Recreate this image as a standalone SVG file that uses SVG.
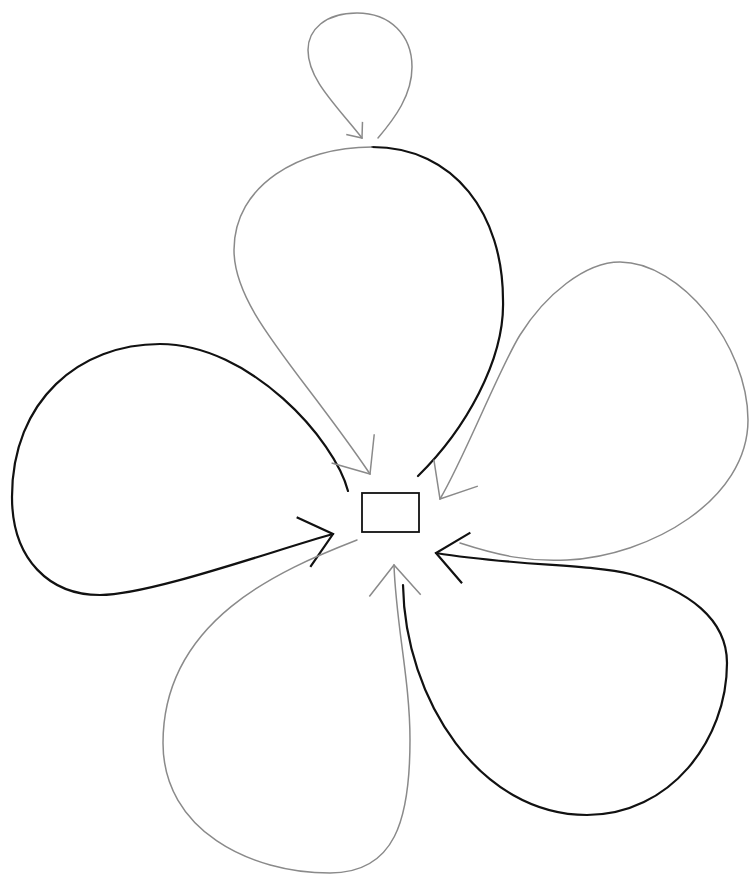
<svg xmlns="http://www.w3.org/2000/svg" width="750" height="875" viewBox="0 0 750 875">
  <style>
    .dark { fill: none; stroke: #111; stroke-width: 2.2; stroke-linecap: round; }
    .grey { fill: none; stroke: #8a8a8a; stroke-width: 1.5; stroke-linecap: round; }
    .node { fill: #fff; stroke: #111; stroke-width: 1.8; }
  </style>
  <defs>
    <marker id="arrDark" orient="auto" markerUnits="userSpaceOnUse" viewBox="-36 -30 40 60" markerWidth="40" markerHeight="60" refX="0" refY="0" overflow="visible">
      <path d="M-30.6,-25.7 L0,0 L-30.6,25.7" fill="none" stroke="#111" stroke-width="2.2"/>
    </marker>
    <marker id="arrGrey" orient="auto" markerUnits="userSpaceOnUse" viewBox="-36 -30 40 60" markerWidth="40" markerHeight="60" refX="0" refY="0" overflow="visible">
      <path d="M-30.6,-25.7 L0,0 L-30.6,25.7" fill="none" stroke="#8a8a8a" stroke-width="1.5"/>
    </marker>
    <marker id="arrGreySmall" orient="auto" markerUnits="userSpaceOnUse" viewBox="-16 -12 20 24" markerWidth="20" markerHeight="24" refX="0" refY="0" overflow="visible">
      <path d="M-12.4,-10.3 L0,0 L-12.4,10.3" fill="none" stroke="#8a8a8a" stroke-width="1.5"/>
    </marker>
  </defs>
  <rect width="750" height="875" fill="#fff"/>
  <g id="connectors">
    <path id="loop-left" class="dark" marker-end="url(#arrDark)" d="M348,491 C335,440 250,344 160,344 C80,344 12,400 12,497 C12,560 50,595 100,595 C150,595 275,550 333,534"/>
    <path id="loop-top-out" class="dark" d="M418,476 C465,430 505,360 503,300 C503,215 455,147 372,147"/>
    <path id="loop-top-back" class="grey" marker-end="url(#arrGrey)" d="M372,147 C300,147 234,185 234,250 C234,310 300,370 370,474"/>
    <path id="loop-small" class="grey" marker-end="url(#arrGreySmall)" d="M378,138 C395,118 412,95 412,67 C412,35 390,13 357,13 C325,13 308,30 308,50 C308,80 337,106 362,138"/>
    <path id="loop-right" class="grey" marker-end="url(#arrGrey)" d="M460,543 C500,556 530,562 567,560 C650,556 748,500 748,420 C748,345 680,262 620,262 C585,262 545,295 520,335 C500,367 463,461 440,499"/>
    <path id="loop-bottom-right" class="dark" marker-end="url(#arrDark)" d="M403,585 C405,700 480,815 587,815 C670,815 727,740 727,663 C727,620 690,590 630,574 C590,564 515,566 436,553"/>
    <path id="loop-bottom-left" class="grey" marker-end="url(#arrGrey)" d="M357,540 C280,570 163,620 163,743 C163,830 250,873 330,873 C395,873 410,820 410,740 C410,680 396,625 394,565"/>
  </g>
  <g id="node-center">
    <rect class="node" x="362" y="493" width="57" height="39"/>
  </g>
</svg>
